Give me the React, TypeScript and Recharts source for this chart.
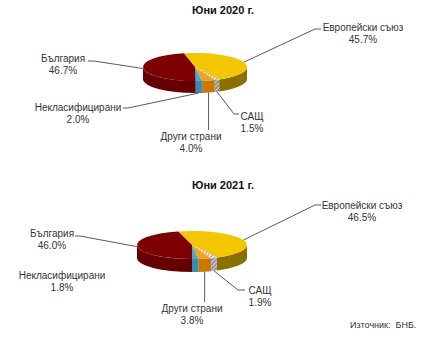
import React from 'react';
import { PieChart, Pie, Cell } from 'recharts';

// Structure of the sector, June 2020 vs June 2021 (share, %)
const categories = ['Европейски съюз', 'САЩ', 'Други страни', 'Некласифицирани', 'България'];
const shares2020 = [45.7, 1.5, 4.0, 2.0, 46.7];
const shares2021 = [46.5, 1.9, 3.8, 1.8, 46.0];
const titles = ['Юни 2020 г.', 'Юни 2021 г.'];
const sourceNote = 'Източник:  БНБ.';

const FONT = "Arial, 'Liberation Sans', sans-serif";
const RAD = Math.PI / 180;

type Palette = Record<string, { top: string; side: string; hatch?: string }>;

const palette2020: Palette = {
  'Европейски съюз': { top: '#f2c600', side: '#8a7000' },
  'САЩ': { top: '#b4b4b4', side: '#8e8e8e', hatch: '#ffffff' },
  'Други страни': { top: '#f4a21c', side: '#c97800' },
  'Некласифицирани': { top: '#4ea8cb', side: '#3a8db0' },
  'България': { top: '#7e0000', side: '#660000' },
};
const palette2021: Palette = {
  ...palette2020,
  'САЩ': { top: '#c2b2d8', side: '#9f8fb9', hatch: '#ffffff' },
};

type Spot = { x: number; y: number; bend?: [number | null, number]; tail?: [number, number] };

const layout2020: Record<string, Spot> = {
  'Европейски съюз': { x: 363, y: 27, bend: [315, 29], tail: [321, 29] },
  'САЩ': { x: 252, y: 116, bend: [234, 114], tail: [239, 114] },
  'Други страни': { x: 191, y: 136, bend: [null, 130] },
  'Некласифицирани': { x: 78, y: 107, bend: [128, 108], tail: [123, 108] },
  'България': { x: 63, y: 58, bend: [94, 61], tail: [88, 61] },
};
const layout2021: Record<string, Spot> = {
  'Европейски съюз': { x: 362, y: 33, bend: [315, 33], tail: [321, 33] },
  'САЩ': { x: 260, y: 118, bend: [238, 118], tail: [245, 118] },
  'Други страни': { x: 192, y: 136, bend: [null, 130] },
  'Некласифицирани': { x: 62, y: 103 },
  'България': { x: 52, y: 61, bend: [80, 64], tail: [75, 64] },
};

const buildRows = (values: number[]) => categories.map((name, i) => ({ name, value: values[i] }));

// Elliptical slice with a visible front wall, giving a tilted-disc look
function makeSlice(palette: Palette, squash: number, depth: number, tag: string) {
  return (props: any) => {
    const { cx, cy, outerRadius, startAngle, endAngle, name } = props;
    const rx = outerRadius;
    const ry = outerRadius * squash;
    const pt = (a: number, dy = 0) =>
      `${cx + rx * Math.cos(a * RAD)},${cy - ry * Math.sin(a * RAD) + dy}`;
    const style = palette[name];
    const patId = `hatch-${tag}`;
    const topFill = style.hatch ? `url(#${patId}-top)` : style.top;
    const sideFill = style.hatch ? `url(#${patId}-side)` : style.side;

    const span = Math.abs(endAngle - startAngle);
    const large = span > 180 ? 1 : 0;
    const sweep = endAngle < startAngle ? 1 : 0;
    const topPath = `M${cx},${cy} L${pt(startAngle)} A${rx},${ry} 0 ${large} ${sweep} ${pt(endAngle)} Z`;

    const lo = Math.min(startAngle, endAngle);
    const hi = Math.max(startAngle, endAngle);
    const walls: string[] = [];
    for (const [f0, f1] of [[-540, -360], [-180, 0], [180, 360]]) {
      const a = Math.max(lo, f0);
      const b = Math.min(hi, f1);
      if (b > a) {
        walls.push(
          `M${pt(a)} A${rx},${ry} 0 0 0 ${pt(b)} L${pt(b, depth)} A${rx},${ry} 0 0 1 ${pt(a, depth)} Z`
        );
      }
    }

    return (
      <g>
        {style.hatch && (
          <defs>
            <pattern id={`${patId}-top`} width="3" height="3" patternUnits="userSpaceOnUse" patternTransform="rotate(45)">
              <rect width="3" height="3" fill={style.top} />
              <line x1="0.5" y1="0" x2="0.5" y2="3" stroke={style.hatch} strokeWidth="1" />
            </pattern>
            <pattern id={`${patId}-side`} width="3" height="3" patternUnits="userSpaceOnUse" patternTransform="rotate(45)">
              <rect width="3" height="3" fill={style.side} />
              <line x1="0.5" y1="0" x2="0.5" y2="3" stroke="#dddddd" strokeWidth="0.8" />
            </pattern>
          </defs>
        )}
        {walls.map((d, i) => (
          <path key={i} d={d} fill={sideFill} stroke="none" />
        ))}
        <path d={topPath} fill={topFill} stroke="none" />
      </g>
    );
  };
}

function makeLabel(layout: Record<string, Spot>, squash: number, depth: number) {
  return (props: any) => {
    const { cx, cy, midAngle, outerRadius, name, value } = props;
    const spot = layout[name];
    if (!spot) return null;
    const rx = outerRadius;
    const ry = outerRadius * squash;
    const s = Math.sin(midAngle * RAD);
    const ax = cx + rx * Math.cos(midAngle * RAD);
    const ay = cy - ry * s + (s < -0.5 ? depth : 0);
    const pts: string[] = [`${ax},${ay}`];
    if (spot.bend) pts.push(`${spot.bend[0] ?? ax},${spot.bend[1]}`);
    if (spot.tail) pts.push(`${spot.tail[0]},${spot.tail[1]}`);
    return (
      <g>
        {spot.bend && <polyline points={pts.join(' ')} fill="none" stroke="#5a5a5a" strokeWidth={1} />}
        <text
          x={spot.x}
          y={spot.y}
          textAnchor="middle"
          dominantBaseline="central"
          fontFamily={FONT}
          fontSize={10}
          fill="#333"
        >
          <tspan x={spot.x} dy={0}>{name}</tspan>
          <tspan x={spot.x} dy={12}>{`${value.toFixed(1)}%`}</tspan>
        </text>
      </g>
    );
  };
}

type PanelProps = {
  values: number[];
  palette: Palette;
  layout: Record<string, Spot>;
  cx: number;
  cy: number;
  radius: number;
  squash: number;
  depth: number;
  startAngle: number;
  tag: string;
};

function Panel({ values, palette, layout, cx, cy, radius, squash, depth, startAngle, tag }: PanelProps) {
  const rows = buildRows(values);
  const shape = makeSlice(palette, squash, depth, tag);
  return (
    <PieChart width={442} height={172} margin={{ top: 0, right: 0, bottom: 0, left: 0 }}>
      <Pie
        data={rows}
        dataKey="value"
        nameKey="name"
        cx={cx}
        cy={cy}
        innerRadius={0}
        outerRadius={radius}
        startAngle={startAngle}
        endAngle={startAngle - 360}
        stroke="none"
        isAnimationActive={false}
        labelLine={false}
        label={makeLabel(layout, squash, depth)}
        shape={shape}
        activeShape={shape}
        inactiveShape={shape}
      >
        {rows.map((r) => (
          <Cell key={r.name} fill={palette[r.name].top} />
        ))}
      </Pie>
    </PieChart>
  );
}

const titleStyle: React.CSSProperties = {
  position: 'absolute',
  width: 442,
  left: 0,
  textAlign: 'center',
  fontFamily: FONT,
  fontWeight: 'bold',
  fontSize: 11,
  lineHeight: '13px',
  color: '#111',
};

export default function App() {
  return (
    <div style={{ position: 'absolute', left: 0, top: 0, width: 442, height: 344, background: '#fff', overflow: 'hidden' }}>
      <div style={{ ...titleStyle, top: 4, paddingLeft: 2 }}>{titles[0]}</div>
      <div style={{ position: 'absolute', left: 0, top: 0 }}>
        <Panel
          values={shares2020}
          palette={palette2020}
          layout={layout2020}
          cx={195}
          cy={67}
          radius={52}
          squash={0.27}
          depth={12}
          startAngle={102.4}
          tag="y2020"
        />
      </div>
      <div style={{ ...titleStyle, top: 179, paddingLeft: 2 }}>{titles[1]}</div>
      <div style={{ position: 'absolute', left: 0, top: 172 }}>
        <Panel
          values={shares2021}
          palette={palette2021}
          layout={layout2021}
          cx={192}
          cy={73}
          radius={55}
          squash={0.255}
          depth={13}
          startAngle={104.4}
          tag="y2021"
        />
      </div>
      <div
        style={{
          position: 'absolute',
          left: 350,
          top: 320,
          fontFamily: FONT,
          fontSize: 9,
          lineHeight: '11px',
          color: '#333',
          whiteSpace: 'pre',
        }}
      >
        {sourceNote}
      </div>
    </div>
  );
}
